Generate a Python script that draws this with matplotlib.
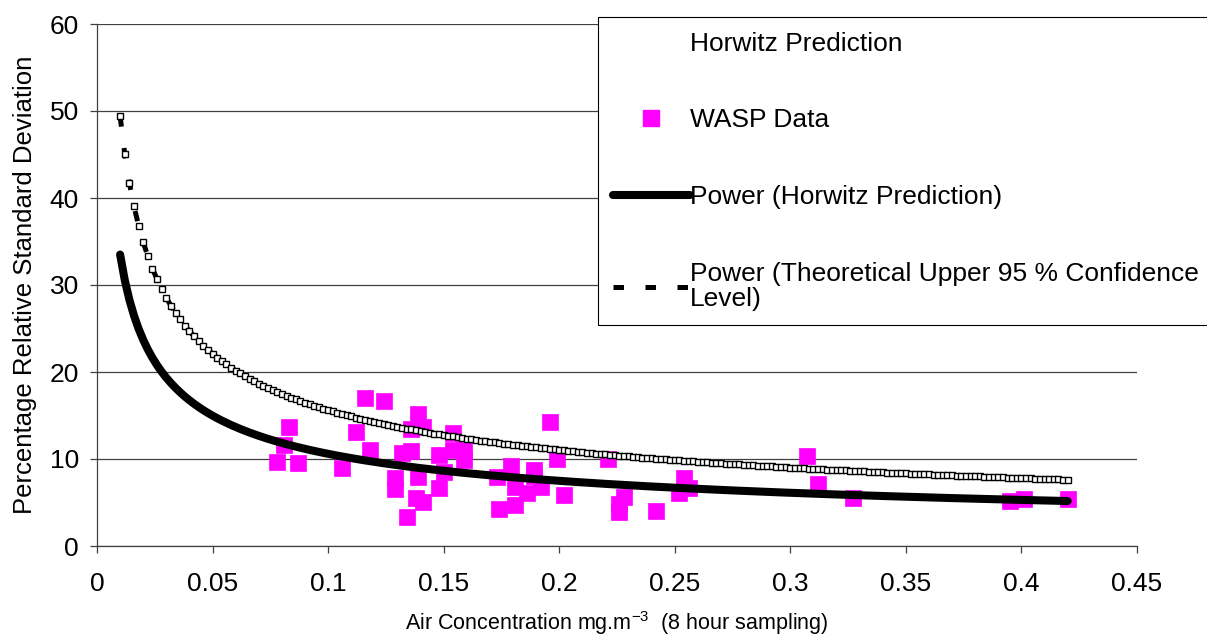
import numpy as np
import matplotlib
matplotlib.use("Agg")
import matplotlib.pyplot as plt
from matplotlib.lines import Line2D

plt.rcParams["font.family"] = ["Liberation Sans", "DejaVu Sans"]
plt.rcParams["mathtext.fontset"] = "custom"
plt.rcParams["mathtext.rm"] = "Liberation Sans"
plt.rcParams["mathtext.it"] = "Liberation Sans"

wasp_conc = [0.078, 0.081, 0.083, 0.087, 0.106, 0.112, 0.116, 0.118, 0.124, 0.129,
             0.129, 0.132, 0.134, 0.136, 0.136, 0.139, 0.141, 0.138, 0.141, 0.139,
             0.148, 0.148, 0.150, 0.154, 0.154, 0.159, 0.159, 0.173, 0.179, 0.189,
             0.189, 0.181, 0.186, 0.192, 0.174, 0.181, 0.196, 0.199, 0.202, 0.221,
             0.228, 0.226, 0.226, 0.242, 0.254, 0.252, 0.256, 0.307, 0.312, 0.327,
             0.395, 0.401, 0.420]
wasp_rsd = [9.7, 11.6, 13.7, 9.5, 9.0, 13.1, 17.0, 11.0, 16.7, 7.8,
            6.6, 10.7, 3.3, 10.9, 13.4, 15.2, 13.7, 5.5, 5.1, 7.9,
            10.5, 6.7, 8.5, 13.0, 11.0, 9.9, 11.0, 7.9, 9.2, 8.7,
            8.0, 6.8, 6.1, 6.8, 4.3, 4.7, 14.3, 10.0, 5.9, 10.0,
            5.6, 4.8, 3.9, 4.0, 7.8, 6.1, 6.7, 10.3, 7.1, 5.5,
            5.2, 5.4, 5.4]

# power trendlines  rsd = a * conc^b
horwitz_a, horwitz_b = 3.35, -0.5
upper_a, upper_b = 4.94, -0.5
pred_conc = np.arange(0.01, 0.4205, 0.002)

x_ticks = [0, 0.05, 0.1, 0.15, 0.2, 0.25, 0.3, 0.35, 0.4, 0.45]
y_ticks = [0, 10, 20, 30, 40, 50, 60]

fs = 19
fig = plt.figure(figsize=(12.07, 6.41), dpi=100)
ax = fig.add_axes([97 / 1207, 1 - 546 / 641, 1040 / 1207, 522 / 641])

ax.plot(wasp_conc, wasp_rsd, linestyle="none", marker="s", markersize=11.5,
        color="#ff00ff", mec="#ff00ff", mew=0.5, zorder=3)

horwitz_rsd = horwitz_a * pred_conc ** horwitz_b
upper_rsd = upper_a * pred_conc ** upper_b

ax.plot(pred_conc, upper_rsd, color="black", lw=3.6, dashes=(2.1, 4.3), zorder=4)
ax.plot(pred_conc, upper_rsd, linestyle="none", marker="s", markersize=3.8,
        mfc="white", mec="black", mew=1.0, zorder=5)
ax.plot(pred_conc, horwitz_rsd, color="black", lw=5.8, solid_capstyle="round", zorder=6)

ax.set_xlim(0, 0.45)
ax.set_ylim(0, 60)
ax.set_xticks(x_ticks)
ax.set_xticklabels(["%g" % t for t in x_ticks])
ax.set_yticks(y_ticks)
ax.yaxis.grid(True, color="#404040", lw=0.9)
ax.set_axisbelow(True)
for s in ["top", "right"]:
    ax.spines[s].set_visible(False)
for s in ["left", "bottom"]:
    ax.spines[s].set_color("#404040")
    ax.spines[s].set_linewidth(0.9)
ax.tick_params(direction="out", length=5, width=0.9, color="#404040", labelsize=fs)
ax.tick_params(axis="x", pad=14)
ax.tick_params(axis="y", pad=8)

ax.set_ylabel("Percentage Relative Standard Deviation", fontsize=18.5)
ax.set_xlabel("Air Concentration mg.m$^{-3}$  (8 hour sampling)", fontsize=15.5)
ax.yaxis.set_label_coords(-0.058, 0.5)
ax.xaxis.set_label_coords(0.5, -0.121)

handles = [
    Line2D([], [], linestyle="none"),
    Line2D([], [], linestyle="none", marker="s", markersize=11.5, color="#ff00ff"),
    Line2D([], [], color="black", lw=5.8, solid_capstyle="round"),
    Line2D([], [], color="black", lw=3.6, dashes=(2.1, 4.3)),
]
labels = ["Horwitz Prediction", "WASP Data", "Power (Horwitz Prediction)",
          "Power (Theoretical Upper 95 % Confidence\nLevel)"]
leg = fig.legend(handles, labels, loc="upper left",
                 bbox_to_anchor=(598 / 1207, 1 - 17 / 641), fontsize=fs,
                 frameon=True, fancybox=False, edgecolor="black", framealpha=1,
                 borderpad=0.55, labelspacing=2.0, handlelength=2.95,
                 handletextpad=0.0, borderaxespad=0)
leg.get_frame().set_linewidth(0.8)
for t in leg.get_texts():
    t.set_linespacing(1.05)

fig.savefig("out.png", dpi=100)
